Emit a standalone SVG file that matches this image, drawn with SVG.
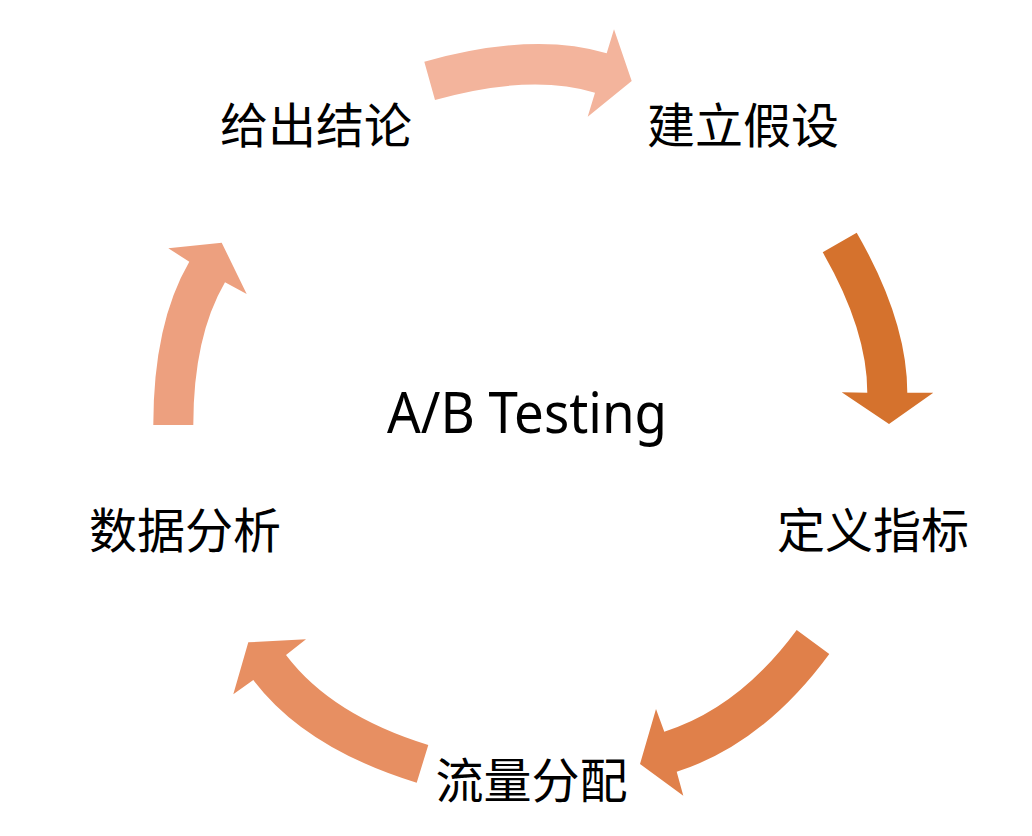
<svg xmlns="http://www.w3.org/2000/svg" width="1032" height="836" viewBox="0 0 1032 836">
<style>
.lbl{font-family:"Noto Sans CJK SC","Noto Sans",sans-serif;font-size:48px;fill:#000;text-anchor:middle}
.title{font-family:"Noto Sans","Noto Sans CJK SC",sans-serif;font-size:56px;fill:#000;text-anchor:middle}
</style>
<rect width="1032" height="836" fill="#fff"/>
<g id="connectors">
<path id="a1" fill="#F3B49C" d="M424.3,61.7 Q533.3,31.2 606.7,53.3 L614,29.3 L631.7,81 L587.7,116.7 L595,92.7 Q530.5,73.3 435,100 Z"/>
<path id="a2" fill="#D5722D" d="M822.7,252.3 L856.7,232.7 Q907.3,320.5 907.3,392.7 L933.3,392.7 L889,424 L841.7,392.3 L867.3,392.7 Q867.3,329.7 822.7,252.3 Z"/>
<path id="a3" fill="#E0804A" d="M796.7,630 L829.3,654 Q762.6,744.7 676.7,771.7 L683.3,795.7 L640,764 L656,709 L664.3,731.7 Q739.2,708.1 796.7,630 Z"/>
<path id="a4" fill="#E78F62" d="M428.3,745 L416.7,782.7 Q305,748.3 253.3,680 L233.3,694.3 L248.3,642.3 L306,639.3 L286,655 Q331.5,715.2 428.3,745 Z"/>
<path id="a5" fill="#EDA07F" d="M153.3,425 L193.3,425 Q193.3,336.7 225,282.3 L246.7,294 L221.7,242.7 L168.3,248.3 L189.3,261.7 Q153.3,323.5 153.3,425 Z"/>
</g>
<g id="center"><text class="title" x="527" y="433.3" textLength="280" lengthAdjust="spacingAndGlyphs">A/B Testing</text></g>
<g id="n1"><text class="lbl" x="316" y="142.5">给出结论</text></g>
<g id="n2"><text class="lbl" x="743" y="143">建立假设</text></g>
<g id="n3"><text class="lbl" x="873" y="547.5">定义指标</text></g>
<g id="n4"><text class="lbl" x="531.5" y="798">流量分配</text></g>
<g id="n5"><text class="lbl" x="185" y="547.5">数据分析</text></g>
</svg>
